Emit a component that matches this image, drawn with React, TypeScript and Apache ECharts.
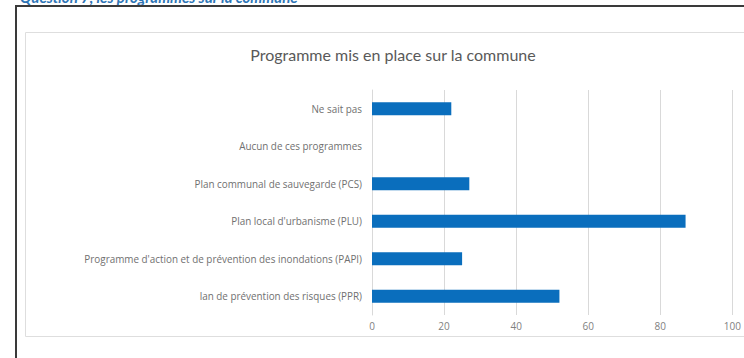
import React, { useEffect, useRef } from "react";
import * as echarts from "echarts";

const categories = [
  "Ne sait pas",
  "Aucun de ces programmes",
  "Plan communal de sauvegarde (PCS)",
  "Plan local d'urbanisme (PLU)",
  "Programme d'action et de prévention des inondations (PAPI)",
  "lan de prévention des risques (PPR)",
];
const values = [22, 0, 27, 87, 25, 52];
const titleText = "Programme mis en place sur la commune";
const headerText = "Question 7, les programmes sur la commune";

export default function App() {
  const ref = useRef<HTMLDivElement>(null);
  useEffect(() => {
    if (!ref.current) return;
    const chart = echarts.init(ref.current, undefined, { renderer: "svg" });
    chart.setOption({
      animation: false,
      backgroundColor: "#ffffff",
      title: {
        text: titleText,
        left: 388,
        top: 41,
        textAlign: "center",
        textStyle: { fontFamily: "Lato", fontSize: 16, fontWeight: "normal", color: "#595959" },
      },
      graphic: [
        {
          type: "text",
          left: 20,
          top: -11,
          style: { text: headerText, fill: "#2e75b6", font: "italic bold 15px Lato" },
        },
        {
          type: "rect",
          shape: { x: 16, y: 6, width: 760, height: 380 },
          style: { fill: "none", stroke: "#3a3a3a", lineWidth: 2 },
        },
        {
          type: "rect",
          shape: { x: 25.5, y: 32.5, width: 740, height: 304 },
          style: { fill: "none", stroke: "#dedede", lineWidth: 1 },
        },
      ],
      grid: { left: 372, right: 7, top: 90, bottom: 43, containLabel: false },
      xAxis: {
        type: "value",
        min: 0,
        max: 100,
        interval: 20,
        axisLine: { show: false },
        axisTick: { show: false },
        axisLabel: { color: "#7f7f7f", fontSize: 10, fontFamily: "Open Sans", margin: 6 },
        splitLine: { show: true, lineStyle: { color: "#d9d9d9", width: 1 } },
      },
      yAxis: {
        type: "category",
        data: categories,
        inverse: true,
        axisLine: { show: true, lineStyle: { color: "#d9d9d9" } },
        axisTick: { show: false },
        axisLabel: { color: "#707070", fontSize: 9.9, fontFamily: "Open Sans", margin: 10 },
      },
      series: [
        {
          type: "bar",
          data: values,
          barWidth: 13,
          itemStyle: { color: "#0a6ebd" },
        },
      ],
    });
    return () => chart.dispose();
  }, []);
  return (
    <div
      ref={ref}
      style={{ position: "fixed", left: 0, top: 0, width: 744, height: 358 }}
    />
  );
}
